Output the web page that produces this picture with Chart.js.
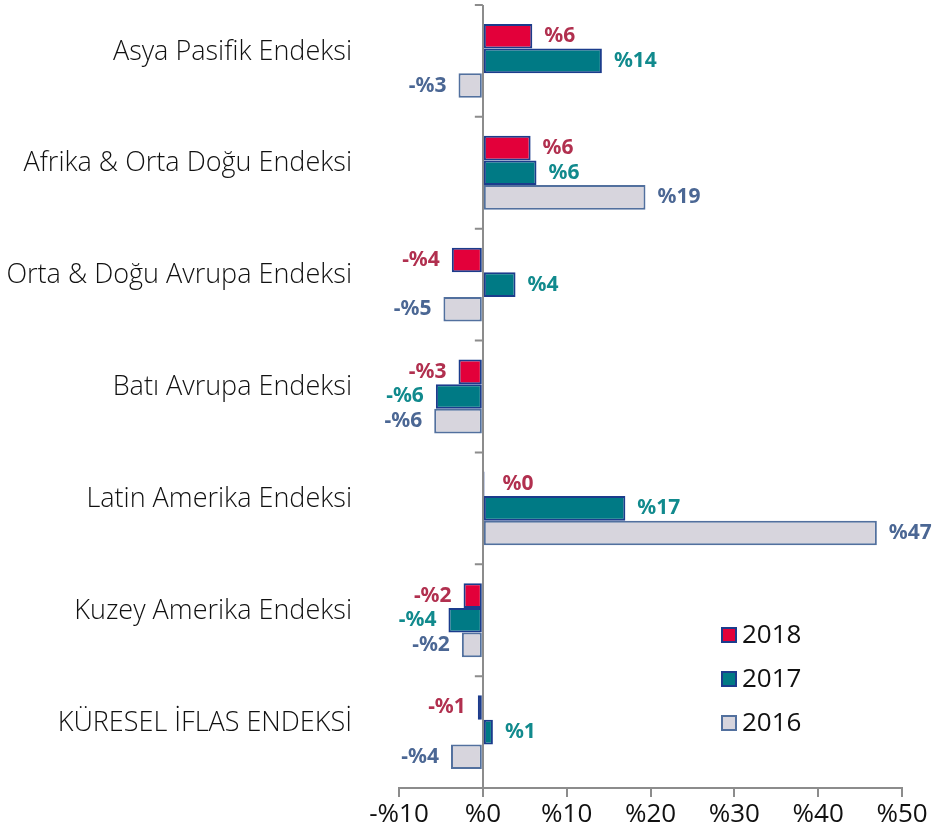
<!DOCTYPE html>
<html lang="tr">
<head>
    <meta charset="UTF-8">
    <title>Endeksler</title>
    <style>
        html, body { margin: 0; padding: 0; background: #fff; }
        #wrap { width: 936px; height: 833px; position: relative; }
    </style>
    <script src="https://cdn.jsdelivr.net/npm/chart.js"></script>
</head>
<body>
    <div id="wrap"><canvas id="chart"></canvas></div>
    <script>
        // Data
        const categories = [
            'Asya Pasifik Endeksi',
            'Afrika & Orta Doğu Endeksi',
            'Orta & Doğu Avrupa Endeksi',
            'Batı Avrupa Endeksi',
            'Latin Amerika Endeksi',
            'Kuzey Amerika Endeksi',
            'KÜRESEL İFLAS ENDEKSİ'
        ];
        const years = ['2018', '2017', '2016'];
        const values2018 = [5.9, 5.7, -3.7, -2.9, 0.2, -2.3, -0.6];
        const values2017 = [14.2, 6.4, 3.9, -5.6, 17.0, -4.1, 1.2];
        const values2016 = [-2.9, 19.4, -4.7, -5.8, 47.0, -2.5, -3.8];
        const xTicks = [-10, 0, 10, 20, 30, 40, 50];

        const fills = ['#E3003A', '#007A85', '#D7D5DD'];
        const borders = ['#1B3C8C', '#1B3C8C', '#52709E'];
        const labelColors = ['#B1304F', '#118A8D', '#4B6794'];

        function pct(v) {
            const r = Math.round(v);
            return (r < 0 ? '-%' : '%') + Math.abs(r);
        }

        // value labels at the end of each bar
        const valueLabels = {
            id: 'valueLabels',
            afterDatasetsDraw(chart) {
                const ctx = chart.ctx;
                ctx.save();
                ctx.font = 'bold 21px "Noto Sans"';
                ctx.textBaseline = 'middle';
                chart.data.datasets.forEach((ds, i) => {
                    const meta = chart.getDatasetMeta(i);
                    ctx.fillStyle = labelColors[i];
                    meta.data.forEach((bar, j) => {
                        const v = ds.data[j];
                        if (v >= 0) {
                            ctx.textAlign = 'left';
                            ctx.fillText(pct(v), bar.x + (v < 1 ? 18 : 12), bar.y);
                        } else {
                            ctx.textAlign = 'right';
                            ctx.fillText(pct(v), bar.x - 12, bar.y);
                        }
                    });
                });
                ctx.restore();
            }
        };

        // small tick marks on the zero line between categories
        const zeroTicks = {
            id: 'zeroTicks',
            afterDraw(chart) {
                const ctx = chart.ctx;
                const x0 = chart.scales.x.getPixelForValue(0);
                const ys = chart.scales.y;
                const step = (ys.bottom - ys.top) / categories.length;
                ctx.save();
                ctx.strokeStyle = '#8C8C8C';
                ctx.lineWidth = 2;
                ctx.beginPath();
                for (let i = 0; i < categories.length; i++) {
                    const y = ys.top + i * step;
                    ctx.moveTo(x0 - 8, y);
                    ctx.lineTo(x0, y);
                }
                ctx.stroke();
                ctx.restore();
            }
        };

        // legend in the lower right
        const boxLegend = {
            id: 'boxLegend',
            afterDraw(chart) {
                const ctx = chart.ctx;
                ctx.save();
                ctx.font = '26px "Open Sans"';
                ctx.textBaseline = 'middle';
                ctx.textAlign = 'left';
                chart.data.datasets.forEach((ds, i) => {
                    const cy = 635 + i * 44;
                    ctx.fillStyle = fills[i];
                    ctx.fillRect(722, cy - 7, 14, 14);
                    ctx.strokeStyle = borders[i];
                    ctx.lineWidth = 2;
                    ctx.strokeRect(722, cy - 7, 14, 14);
                    ctx.fillStyle = '#111';
                    ctx.fillText(ds.label, 742, cy + 1);
                });
                ctx.restore();
            }
        };

        const seriesValues = [values2018, values2017, values2016];

        new Chart(document.getElementById('chart'), {
            type: 'bar',
            data: {
                // empty second line lifts each name a little above the group centre
                labels: categories.map(c => [c, '']),
                datasets: years.map((y, i) => ({
                    label: y,
                    data: seriesValues[i],
                    backgroundColor: fills[i],
                    borderColor: borders[i],
                    borderWidth: 2,
                    borderSkipped: false,
                    categoryPercentage: 0.66,
                    barPercentage: 1.0
                }))
            },
            options: {
                indexAxis: 'y',
                responsive: true,
                maintainAspectRatio: false,
                animation: false,
                layout: { padding: { top: 5, right: 34, left: 0, bottom: 0 } },
                plugins: {
                    legend: { display: false },
                    tooltip: { enabled: false }
                },
                scales: {
                    x: {
                        min: -10,
                        max: 50,
                        afterBuildTicks(scale) {
                            scale.ticks = xTicks.map(v => ({ value: v }));
                        },
                        afterFit(scale) { scale.height = 45; },
                        border: { display: true, color: '#8C8C8C', width: 2 },
                        grid: {
                            drawOnChartArea: true,
                            color: c => (c.tick && c.tick.value === 0 ? '#8C8C8C' : 'rgba(0,0,0,0)'),
                            lineWidth: 2,
                            tickColor: '#8C8C8C',
                            tickLength: 9
                        },
                        ticks: {
                            padding: 2,
                            color: '#111',
                            font: { family: 'Open Sans', size: 26 },
                            callback: v => pct(v)
                        }
                    },
                    y: {
                        afterFit(scale) {
                            scale.width = 399;
                            scale.paddingTop = 0;
                            scale.paddingBottom = 0;
                        },
                        border: { display: false },
                        grid: { display: false },
                        ticks: {
                            padding: 39,
                            color: '#111',
                            font: { family: 'Open Sans', size: 27, weight: '300', lineHeight: 0.67 }
                        }
                    }
                }
            },
            plugins: [valueLabels, zeroTicks, boxLegend]
        });
    </script>
</body>
</html>
